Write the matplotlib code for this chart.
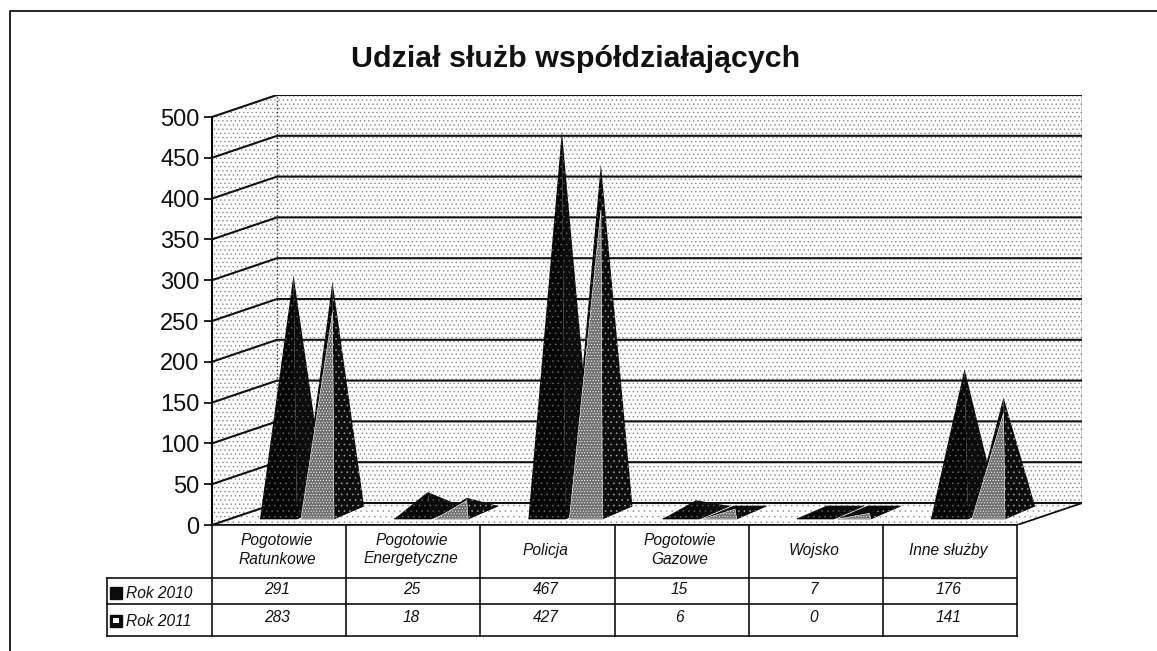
import matplotlib
matplotlib.use('Agg')
import matplotlib.pyplot as plt
from matplotlib.patches import Polygon, Rectangle

categories = ['Pogotowie\nRatunkowe', 'Pogotowie\nEnergetyczne', 'Policja',
              'Pogotowie\nGazowe', 'Wojsko', 'Inne służby']
rok_2010 = [291, 25, 467, 15, 7, 176]
rok_2011 = [283, 18, 427, 6, 0, 141]
series_names = ['Rok 2010', 'Rok 2011']
y_ticks = [0, 50, 100, 150, 200, 250, 300, 350, 400, 450, 500]
title = 'Udział służb współdziałających'

W, H = 1157, 651
plt.rcParams['font.family'] = ['Liberation Sans', 'DejaVu Sans']
plt.rcParams['hatch.linewidth'] = 0.4

# pixel sizes of the fake 3d box
CAT_PX = 134.2
VAL_PX = 0.816
LEFT, ZERO = 212, 525
DEPTH_X = 65 / CAT_PX
DEPTH_Y = 22 / VAL_PX


def px_x(p):
    return p / CAT_PX


def px_y(p):
    return p / VAL_PX


def draw_walls(ax):
    n = len(categories)
    top = y_ticks[-1]
    # side wall, back wall, floor
    ax.add_patch(Polygon([(0, 0), (DEPTH_X, DEPTH_Y), (DEPTH_X, top + DEPTH_Y), (0, top)],
                         facecolor='white', edgecolor='#777777', hatch='....', linewidth=0, zorder=1))
    ax.add_patch(Rectangle((DEPTH_X, DEPTH_Y), n, top, facecolor='white', edgecolor='#777777',
                           hatch='....', linewidth=0, zorder=1))
    ax.add_patch(Polygon([(0, 0), (n, 0), (n + DEPTH_X, DEPTH_Y), (DEPTH_X, DEPTH_Y)],
                         facecolor='white', edgecolor='#999999', hatch='...', linewidth=0, zorder=1))
    for v in y_ticks:
        ax.plot([0, DEPTH_X, n + DEPTH_X], [v, v + DEPTH_Y, v + DEPTH_Y], color='#111111', lw=1.5, zorder=2)
    ax.plot([DEPTH_X, DEPTH_X], [DEPTH_Y, top + DEPTH_Y], color='#333333', lw=1, ls=':', zorder=2)
    ax.plot([n + DEPTH_X, n + DEPTH_X], [DEPTH_Y, top + DEPTH_Y], color='#333333', lw=1, zorder=2)
    ax.plot([n, n + DEPTH_X], [0, DEPTH_Y], color='#111111', lw=1.3, zorder=2)
    ax.plot([0, n], [0, 0], color='#111111', lw=1.5, zorder=2)


def draw_pyramid(ax, i, shift, width, value, light_front, z):
    # base of the pyramid, peak sits over the middle of it
    l = i + px_x(48 + shift)
    r = l + px_x(width)
    yb = px_y(6)
    dx = px_x(30)
    dy = px_y(13)
    peak = ((l + r + dx) / 2, yb + dy / 2 + value)
    ax.add_patch(Polygon([(l, yb), (r, yb), (r + dx, yb + dy), (l + dx, yb + dy)],
                         facecolor='#0c0c0c', edgecolor='#0c0c0c', lw=0.5, zorder=z))
    ax.add_patch(Polygon([(l, yb), (r, yb), peak], facecolor='#050505', edgecolor='#666666',
                         hatch='...', linewidth=0, zorder=z))
    side_dots = '#aaaaaa' if light_front else '#555555'
    ax.add_patch(Polygon([(r, yb), (r + dx, yb + dy), peak], facecolor='#0c0c0c',
                         edgecolor=side_dots, hatch='...', linewidth=0, zorder=z))
    if light_front:
        # the light face stops below the tip, the dark side shows above it
        tip = (peak[0], yb + 0.87 * (peak[1] - yb))
        ax.add_patch(Polygon([(l, yb), (r, yb), tip], facecolor='#707070', edgecolor='white',
                             hatch='......', linewidth=0.4, zorder=z + 0.1))


def draw_table(ov):
    n = len(categories)
    xs = [LEFT + CAT_PX * i for i in range(n + 1)]
    row_y = [525, 578, 604, 636]
    # vertical lines
    for x in xs:
        ov.plot([x, x], [row_y[0], row_y[-1]], color='#111111', lw=1.2)
    ov.plot([107, 107], [row_y[1], row_y[-1]], color='#111111', lw=1.2)
    ov.plot([LEFT, xs[-1]], [row_y[0], row_y[0]], color='#111111', lw=1.2)
    for y in row_y[1:]:
        ov.plot([107, xs[-1]], [y, y], color='#111111', lw=1.2)

    for i, cat in enumerate(categories):
        cx = xs[i] + CAT_PX / 2 - 2
        ov.text(cx, 550, cat, ha='center', va='center', style='italic', fontsize=11.2,
                linespacing=1.25, color='#111111')
        ov.text(cx, 589, str(rok_2010[i]), ha='center', va='center', style='italic', fontsize=11.2, color='#111111')
        ov.text(cx, 617, str(rok_2011[i]), ha='center', va='center', style='italic', fontsize=11.2, color='#111111')

    # legend keys
    ov.add_patch(Rectangle((110, 587), 12, 12, facecolor='#0c0c0c', edgecolor='#0c0c0c'))
    ov.add_patch(Rectangle((110, 615), 12, 12, facecolor='#0c0c0c', edgecolor='#0c0c0c'))
    ov.add_patch(Rectangle((113, 618), 6, 5, facecolor='white', edgecolor='none'))
    ov.text(126, 593, series_names[0], ha='left', va='center', style='italic', fontsize=11.2, color='#111111')
    ov.text(126, 621, series_names[1], ha='left', va='center', style='italic', fontsize=11.2, color='#111111')


def main():
    fig = plt.figure(figsize=(W / 100, H / 100), dpi=100)

    # main axes, covers front plane plus the depth of the box
    n = len(categories)
    right = LEFT + CAT_PX * n + 65
    top_px = ZERO - (y_ticks[-1] * VAL_PX + 22)
    ax = fig.add_axes([LEFT / W, 1 - ZERO / H, (right - LEFT) / W, (ZERO - top_px) / H])
    ax.set_xlim(0, n + DEPTH_X)
    ax.set_ylim(0, y_ticks[-1] + DEPTH_Y)
    ax.patch.set_visible(False)
    for s in ['top', 'right', 'bottom']:
        ax.spines[s].set_visible(False)
    ax.spines['left'].set_bounds(0, y_ticks[-1])
    ax.spines['left'].set_linewidth(1.5)
    ax.set_xticks([])
    ax.set_yticks(y_ticks)
    ax.tick_params(axis='y', labelsize=17, length=6, width=1.3, pad=3, colors='#111111')

    draw_walls(ax)
    for i in range(n):
        draw_pyramid(ax, i, 0, 37, rok_2010[i], False, 3)
        draw_pyramid(ax, i, 41, 33, rok_2011[i], True, 4)

    # overlay in pixels for frame, title and data table
    ov = fig.add_axes([0, 0, 1, 1])
    ov.set_xlim(0, W)
    ov.set_ylim(H, 0)
    ov.axis('off')
    ov.patch.set_visible(False)
    ov.plot([10, 10, W], [H, 11, 11], color='#111111', lw=1.3)
    ov.text(576, 59, title, ha='center', va='center', fontweight='bold', fontsize=21.9, color='#111111')
    draw_table(ov)

    fig.savefig('out.png', dpi=100)
    return 0


if __name__ == '__main__':
    main()
